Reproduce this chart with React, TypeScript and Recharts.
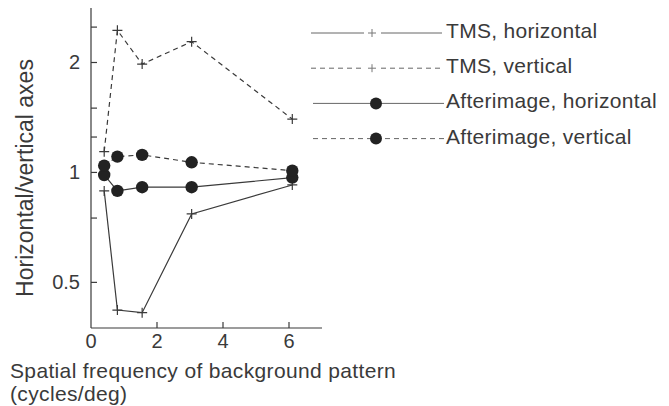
import { LineChart, Line, XAxis, YAxis, Legend } from 'recharts';

// spatial frequency of the background pattern (cycles/deg)
const freqs = [0.4, 0.8, 1.55, 3.05, 6.1];

// horizontal / vertical axis ratio per condition
const tmsHorizontal = [0.89, 0.42, 0.413, 0.77, 0.924];
const tmsVertical = [1.14, 2.45, 1.98, 2.28, 1.4];
const afterHorizontal = [0.984, 0.89, 0.911, 0.911, 0.968];
const afterVertical = [1.044, 1.105, 1.117, 1.066, 1.011];

const xTicks = [0, 2, 4, 6];
const yTicks = [0.5, 0.75, 1, 1.25, 1.5, 1.75, 2, 2.25, 2.5];
const yLabelled = [0.5, 1, 2];

const INK = '#3a3a3a';
const FONT = '"Liberation Sans", Arial, Helvetica, sans-serif';

const SERIES = [
  { key: 'tmsH', name: 'TMS, horizontal', values: tmsHorizontal, dash: undefined, marker: 'plus' },
  { key: 'tmsV', name: 'TMS, vertical', values: tmsVertical, dash: '5 4', marker: 'plus' },
  { key: 'aftH', name: 'Afterimage, horizontal', values: afterHorizontal, dash: undefined, marker: 'dot' },
  { key: 'aftV', name: 'Afterimage, vertical', values: afterVertical, dash: '5 4', marker: 'dot' },
];

const data = freqs.map((f, i) => {
  const row: Record<string, number> = { freq: f };
  SERIES.forEach((s) => (row[s.key] = s.values[i]));
  return row;
});

const plusDot = (props: any) => {
  const { cx, cy, index } = props;
  return (
    <path
      key={`p-${index}`}
      d={`M${cx - 5},${cy}h10M${cx},${cy - 5}v10`}
      stroke={INK}
      strokeWidth={1.2}
      fill="none"
    />
  );
};

const roundDot = (props: any) => {
  const { cx, cy, index } = props;
  return <circle key={`c-${index}`} cx={cx} cy={cy} r={6.2} fill="#222" />;
};

const YTick = ({ x, y, payload }: any) => (
  <g>
    <line x1={x} x2={x + 6} y1={y} y2={y} stroke={INK} strokeWidth={1.2} />
    {yLabelled.includes(payload.value) && (
      <text x={x - 11} y={y + 7} textAnchor="end" fontSize={20} fill={INK} fontFamily={FONT}>
        {payload.value}
      </text>
    )}
  </g>
);

const XTick = ({ x, y, payload }: any) => (
  <g>
    {payload.value !== 0 && <line x1={x} x2={x} y1={y} y2={y - 6} stroke={INK} strokeWidth={1.2} />}
    <text x={x} y={y + 20} textAnchor="middle" fontSize={20} fill={INK} fontFamily={FONT}>
      {payload.value}
    </text>
  </g>
);

// two-line caption under the x axis
const XLabel = ({ viewBox }: any) => {
  const left = viewBox.x - 81;
  return (
    <g fontSize={21} fill={INK} fontFamily={FONT} letterSpacing={0.35}>
      <text x={left} y={viewBox.y + 50}>Spatial frequency of background pattern</text>
      <text x={left} y={viewBox.y + 73}>(cycles/deg)</text>
    </g>
  );
};

const YLabel = () => (
  <text
    x={33}
    y={178}
    transform="rotate(-90, 33, 178)"
    textAnchor="middle"
    fontSize={23}
    fill={INK}
    fontFamily={FONT}
  >
    Horizontal/vertical axes
  </text>
);

const renderLegend = () => (
  <svg width={669} height={160} style={{ display: 'block' }}>
    {SERIES.map((s, i) => {
      const y = 33 + i * 35.2;
      const mx = s.marker === 'plus' ? 372 : 376;
      return (
        <g key={s.key}>
          {s.marker === 'plus' ? (
            <>
              <line x1={311} x2={364} y1={y} y2={y} stroke="#666" strokeWidth={1} strokeDasharray={s.dash} />
              <line x1={381} x2={442} y1={y} y2={y} stroke="#666" strokeWidth={1} strokeDasharray={s.dash} />
              <path d={`M${mx - 4},${y}h8M${mx},${y - 4}v8`} stroke="#777" strokeWidth={1} />
            </>
          ) : (
            <>
              <line x1={313} x2={444} y1={y} y2={y} stroke="#666" strokeWidth={1} strokeDasharray={s.dash} />
              <circle cx={mx} cy={y} r={6} fill="#222" />
            </>
          )}
          <text x={446} y={y + 5} fontSize={21} fill={INK} fontFamily={FONT} letterSpacing={0.3}>
            {s.name}
          </text>
        </g>
      );
    })}
  </svg>
);

export default function App() {
  return (
    <div style={{ position: 'absolute', left: 0, top: 0, width: 669, height: 406, background: '#fff' }}>
      <LineChart width={669} height={406} data={data} margin={{ top: 8, right: 347, bottom: 0, left: 0 }}>
        <XAxis
          dataKey="freq"
          type="number"
          domain={[0, 7]}
          ticks={xTicks}
          height={78}
          tickLine={false}
          tickSize={0}
          tickMargin={0}
          axisLine={{ stroke: INK, strokeWidth: 1.2 }}
          tick={<XTick />}
          label={<XLabel />}
        />
        <YAxis
          type="number"
          scale="log"
          domain={[0.375, 2.82]}
          allowDataOverflow
          ticks={yTicks}
          width={91}
          tickLine={false}
          tickSize={0}
          tickMargin={0}
          axisLine={{ stroke: INK, strokeWidth: 1.2 }}
          tick={<YTick />}
          label={<YLabel />}
        />
        <Legend
          layout="horizontal"
          verticalAlign="middle"
          align="center"
          wrapperStyle={{ left: 0, top: 0, width: 669, height: 160 }}
          content={renderLegend}
        />
        {SERIES.map((s) => (
          <Line
            key={s.key}
            dataKey={s.key}
            name={s.name}
            type="linear"
            stroke={INK}
            strokeWidth={1.2}
            strokeDasharray={s.dash}
            dot={s.marker === 'plus' ? plusDot : roundDot}
            activeDot={false}
            isAnimationActive={false}
          />
        ))}
      </LineChart>
    </div>
  );
}
